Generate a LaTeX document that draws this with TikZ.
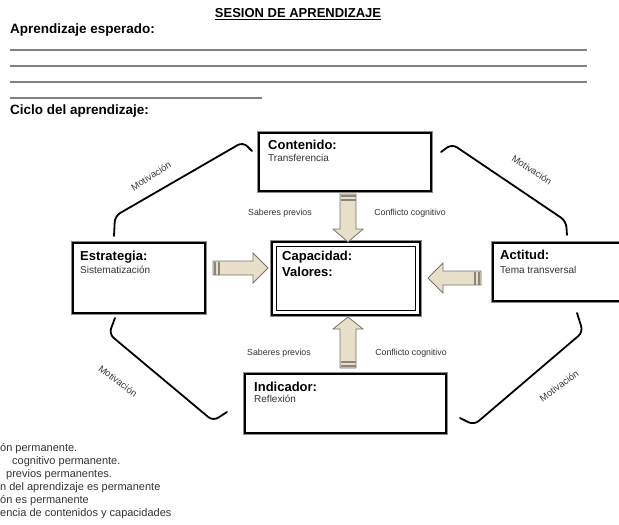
\documentclass[tikz,border=0pt]{standalone}
\usepackage{fontspec}
\setmainfont{Liberation Sans}
\usetikzlibrary{calc}
\definecolor{arrowfill}{HTML}{E7DFC9}
\definecolor{arrowline}{HTML}{7A7468}
\definecolor{stripecol}{HTML}{8A857A}
\definecolor{txtgray}{HTML}{333333}
\definecolor{rulegray}{HTML}{7F7F7F}
\begin{document}
\begin{tikzpicture}[x=1pt,y=-1pt,
  hdr/.style={font=\bfseries\fontsize{13}{15}\selectfont, anchor=west, inner sep=0pt},
  sub/.style={font=\fontsize{10}{12}\selectfont, text=txtgray, anchor=west, inner sep=0pt},
  lbl/.style={font=\fontsize{8.8}{10}\selectfont, text=txtgray, inner sep=0pt},
  mot/.style={font=\fontsize{9.5}{11}\selectfont, text=black!78, inner sep=0pt},
  note/.style={font=\fontsize{11}{13}\selectfont, text=txtgray, anchor=west, inner sep=0pt},
  toptext/.style={font=\bfseries\fontsize{13.5}{15}\selectfont, anchor=west, inner sep=0pt},
  box/.style={draw=black, line width=2.4pt, fill=white, rectangle, inner sep=0pt,
    preaction={draw=black!45, line width=4.4pt}},
  innerbox/.style={draw=black, line width=0.9pt, rectangle, inner sep=0pt},
  blockarr/.style={fill=arrowfill, draw=arrowline, line width=0.8pt, line join=miter},
  stripeline/.style={draw=stripecol, line width=1.6pt},
  rule/.style={draw=rulegray, line width=1.3pt},
  mcurve/.style={draw=black, line width=1.8pt, rounded corners=6pt, line cap=round}
]
\useasboundingbox (0,0) rectangle (619,525);

% header
\node[font=\bfseries\fontsize{13}{15}\selectfont, inner sep=0pt] (title) at (298,13) {SESION DE APRENDIZAJE};
\draw[line width=1pt] ($(title.south west)+(0,1.5)$) -- ($(title.south east)+(0,1.5)$);
\node[toptext] (esperado) at (10,30) {Aprendizaje esperado:};
\draw[rule] (10,50) -- (587,50);
\draw[rule] (10,66) -- (587,66);
\draw[rule] (10,82) -- (587,82);
\draw[rule] (10,98) -- (262,98);
\node[toptext] (ciclo) at (10,111) {Ciclo del aprendizaje:};

% boxes
\node[box, minimum width=172pt, minimum height=58pt] (cont) at (345,162) {};
\node[box, minimum width=148pt, minimum height=73pt] (cap) at (346,278.5) {};
\node[innerbox, minimum width=139pt, minimum height=64pt] (capin) at (346,278.5) {};
\node[box, minimum width=132pt, minimum height=70pt] (estr) at (139,278) {};
\node[box, minimum width=135pt, minimum height=58pt] (acti) at (560.5,272) {};
\node[box, minimum width=201pt, minimum height=59pt] (indi) at (345.5,403.5) {};

% box texts
\node[hdr] (contT) at (268,145) {Contenido:};
\node[sub] (contS) at (268,158) {Transferencia};
\node[hdr] (capT) at (282,257) {Capacidad:};
\node[hdr] (capV) at (282,272) {Valores:};
\node[hdr] (estrT) at (80,257) {Estrategia:};
\node[sub] (estrS) at (80,270) {Sistematización};
\node[hdr] (actiT) at (500,255) {Actitud:};
\node[sub] (actiS) at (500,270) {Tema transversal};
\node[hdr] (indiT) at (254,387) {Indicador:};
\node[sub] (indiS) at (254,399) {Reflexión};

% block arrows
% down: Contenido -> Capacidad
\draw[blockarr] (340,194) -- (356,194) -- (356,229) -- (363,229) -- (348,242) -- (333,229) -- (340,229) -- cycle;
\draw[stripeline] (340.5,196) -- (355.5,196);
\draw[stripeline] (340.5,200) -- (355.5,200);
% up: Indicador -> Capacidad
\draw[blockarr] (340,368) -- (356,368) -- (356,329) -- (363,329) -- (348,317) -- (333,329) -- (340,329) -- cycle;
\draw[stripeline] (340.5,366) -- (355.5,366);
\draw[stripeline] (340.5,362) -- (355.5,362);
% right: Estrategia -> Capacidad
\draw[blockarr] (213,261) -- (213,275) -- (253,275) -- (253,283) -- (268,268) -- (253,253) -- (253,261) -- cycle;
\draw[stripeline] (215,261.5) -- (215,274.5);
\draw[stripeline] (219,261.5) -- (219,274.5);
% left: Actitud -> Capacidad
\draw[blockarr] (481,271) -- (481,285) -- (443,285) -- (443,293) -- (428,278) -- (443,263) -- (443,271) -- cycle;
\draw[stripeline] (479,271.5) -- (479,284.5);
\draw[stripeline] (475,271.5) -- (475,284.5);

% labels near vertical arrows
\node[lbl] (sp1) at (280,213) {Saberes previos};
\node[lbl] (cc1) at (410,213) {Conflicto cognitivo};
\node[lbl] (sp2) at (279,353) {Saberes previos};
\node[lbl] (cc2) at (411,353) {Conflicto cognitivo};

% Motivacion curves
\coordinate (m1a) at (114,236);
\coordinate (m1b) at (252,151);
\draw[mcurve] (m1a) -- (115,216) -- (243,142) -- (m1b);
\coordinate (m2a) at (441,152);
\coordinate (m2b) at (567,235);
\draw[mcurve] (m2a) -- (452,144) -- (566,221) -- (m2b);
\coordinate (m3a) at (115,318);
\coordinate (m3b) at (227,412);
\draw[mcurve] (m3a) -- (109,334) -- (213,421) -- (m3b);
\coordinate (m4a) at (577,313);
\coordinate (m4b) at (460,418);
\draw[mcurve] (m4a) -- (583,332) -- (474,425) -- (m4b);

\node[mot, rotate=33] (mot1) at (151,176) {Motivación};
\node[mot, rotate=-33] (mot2) at (532,170) {Motivación};
\node[mot, rotate=-37] (mot3) at (118,381) {Motivación};
\node[mot, rotate=36] (mot4) at (559,386) {Motivación};

% bottom notes
\node[note] (n1) at (0,449) {ón permanente.};
\node[note] (n2) at (12,462) {cognitivo permanente.};
\node[note] (n3) at (6,475) {previos permanentes.};
\node[note] (n4) at (0,488) {n del aprendizaje es permanente};
\node[note] (n5) at (0,501) {ón es permanente};
\node[note] (n6) at (0,514) {encia de contenidos y capacidades};
\end{tikzpicture}
\end{document}
